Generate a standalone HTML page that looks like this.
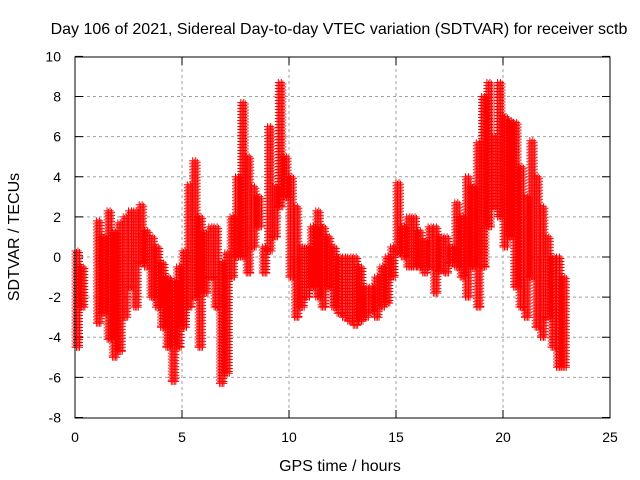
<!DOCTYPE html>
<html><head><meta charset="utf-8"><style>
body{margin:0;background:#fff}
svg{display:block;font-family:"Liberation Sans",sans-serif;font-size:14px}
.big{font-size:16px}
</style></head><body>
<svg id="chart" width="640" height="480">
<text class="big" x="339" y="34" text-anchor="middle">Day 106 of 2021, Sidereal Day-to-day VTEC variation (SDTVAR) for receiver sctb</text>
<text class="big" x="340" y="471" text-anchor="middle">GPS time / hours</text>
<text class="big" transform="translate(19,237) rotate(-90)" text-anchor="middle">SDTVAR / TECUs</text>
<g id="grid"></g>
<g id="axes"></g>
<path id="marks" fill="none" stroke="#ff0000" stroke-width="1"></path>
<rect x="75" y="57" width="535" height="361" fill="none" stroke="#000"></rect>
</svg>
<script>
const xTicks=[0,5,10,15,20,25];
const yTicks=[-8,-6,-4,-2,0,2,4,6,8,10];
const times=[0,0.25,0.5,0.75,1,1.25,1.5,1.75,2,2.25,2.5,2.75,3,3.25,3.5,3.75,4,4.25,4.5,4.75,5,5.25,5.5,5.75,6,6.25,6.5,6.75,7,7.25,7.5,7.75,8,8.25,8.5,8.75,9,9.25,9.5,9.75,10,10.25,10.5,10.75,11,11.25,11.5,11.75,12,12.25,12.5,12.75,13,13.25,13.5,13.75,14,14.25,14.5,14.75,15,15.25,15.5,15.75,16,16.25,16.5,16.75,17,17.25,17.5,17.75,18,18.25,18.5,18.75,19,19.25,19.5,19.75,20,20.25,20.5,20.75,21,21.25,21.5,21.75,22,22.25,22.5,22.75];
const hiVals=[0.3,-0.5,null,null,1.8,1.0,2.3,1.2,1.7,2.0,2.3,2.3,2.6,1.3,1.0,0.5,-0.3,-1.0,-1.2,-0.5,0.3,3.6,4.8,2.0,1.2,1.5,1.5,-0.3,0.2,2.0,4.0,7.7,5.0,3.5,3.0,0.5,6.5,3.5,8.7,5.0,4.0,2.5,0.5,0.5,1.5,2.3,1.5,1.0,0.5,0,0,0,0,-0.5,-1.5,-1.5,-1.0,-0.5,0,0.5,3.7,1.5,2.0,2.0,1.3,0.8,1.5,1.5,1.0,1.0,0.5,2.7,2.0,4.0,3.5,5.7,8.0,8.7,6.0,8.7,7.0,6.8,6.7,4.5,3.0,5.8,4.0,2.5,1.0,0,0,-1.0];
const loVals=[-4.5,-2.5,null,null,-3.3,-2.8,-4.1,-5.0,-4.7,-3.0,-1.5,-2.5,-0.3,-0.5,-2.0,-2.5,-3.5,-4.5,-6.2,-4.5,-3.5,-2.5,-2.0,-4.5,-1.8,-1.0,-2.5,-6.3,-5.8,-1.0,0,0,-0.8,0.5,1.5,-0.8,0.3,1.0,2.5,3.0,-1.0,-3.0,-2.5,-2.0,-1.5,-2.0,-2.5,-1.5,-2.5,-2.8,-3.0,-3.2,-3.4,-3.2,-3.0,-2.7,-3.0,-2.5,-2.3,-1.0,0.2,0,-0.5,-0.5,-0.5,-0.8,-0.5,-1.8,-0.7,-0.8,-0.3,-0.5,-1.0,-2.0,-0.5,-2.5,-0.5,1.5,2.5,2.0,0.5,1.0,-1.5,-2.5,-3.0,-1.0,-3.5,-4.0,-3.0,-4.5,-5.5,-5.5];
const X=t=>75+t*21.4;
const Y=v=>257-v*20.06;
const NS='http://www.w3.org/2000/svg';
const grid=document.getElementById('grid'),axes=document.getElementById('axes');
function mk(tag,at,parent){const e=document.createElementNS(NS,tag);for(const k in at)e.setAttribute(k,at[k]);parent.appendChild(e);return e;}
xTicks.forEach(t=>{
  const x=X(t);
  if(t>0&&t<25){const g=mk('line',{x1:x,x2:x,y1:57,y2:418,stroke:'#a0a0a0','stroke-dasharray':'3,3'},grid);
  
  }
  mk('line',{x1:x,x2:x,y1:418,y2:410,stroke:'#000'},axes);
  mk('line',{x1:x,x2:x,y1:57,y2:65,stroke:'#000'},axes);
  const l=mk('text',{x:x,y:442,'text-anchor':'middle'},axes);l.textContent=t;
  
  
});
yTicks.forEach(v=>{
  const y=Y(v);
  if(v>-8&&v<10){const g=mk('line',{x1:75,x2:610,y1:y,y2:y,stroke:'#a0a0a0','stroke-dasharray':'3,3'},grid);
  
  }
  mk('line',{x1:75,x2:83,y1:y,y2:y,stroke:'#000'},axes);
  mk('line',{x1:602,x2:610,y1:y,y2:y,stroke:'#000'},axes);
  const l=mk('text',{x:61,y:y+5,'text-anchor':'end'},axes);l.textContent=v;
  
  
});
let d='';
function plus(x,y){d+=`M${(x-3.5).toFixed(1)},${y.toFixed(1)}h7M${x.toFixed(1)},${(y-3.5).toFixed(1)}v7`;}
times.forEach((t,i)=>{
  const hi=hiVals[i],lo=loVals[i];
  if(hi===null||lo===null)return;
  for(let k=0;k<4;k++){
    const x=X(t)+k*1.5;
    const y0=Y(hi),y1=Y(lo);
    for(let y=y0+(k%2)*1.5;y<=y1;y+=3)plus(x,y);
    plus(x,y1);
  }
});
document.getElementById('marks').setAttribute('d',d);
</script>
</body></html>
